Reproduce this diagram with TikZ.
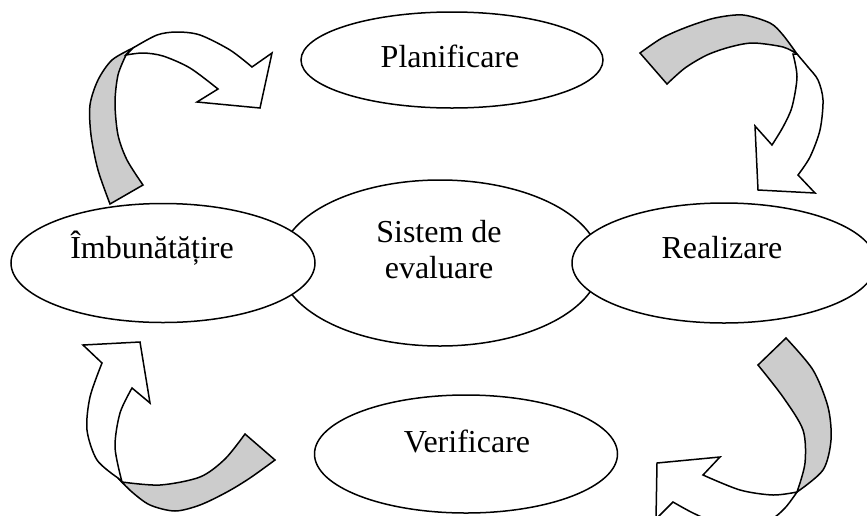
\documentclass[tikz,border=0pt]{standalone}
\usepackage{fontspec}
\setmainfont{Liberation Serif}
\usetikzlibrary{shapes.geometric}
\definecolor{bandgray}{HTML}{CCCCCC}
\tikzset{
  ell/.style={ellipse, draw=black, fill=white, line width=1.5pt, inner sep=0pt},
  lbl/.style={anchor=base, inner sep=0pt, font=\fontsize{32}{37}\selectfont},
  band/.style={draw=black, fill=bandgray, line width=1.5pt, line join=miter},
  shaft/.style={draw=black, fill=white, line width=1.5pt, line join=miter}
}
\begin{document}
\begin{tikzpicture}[x=1pt,y=-1pt]
\useasboundingbox (0,0) rectangle (867,515);
\clip (0,0) rectangle (867,515);
\fill[white] (0,0) rectangle (867,515);
% centre ellipse and side ellipses
\node[ell, minimum width=320pt, minimum height=166pt] (sis) at (440,263) {};
\node[ell, minimum width=304pt, minimum height=119pt] (imb) at (163,263) {};
\node[ell, minimum width=304pt, minimum height=120pt] (rea) at (724,263) {};
\node[ell, minimum width=302pt, minimum height=96pt] (pla) at (452,60) {};
\node[ell, minimum width=303pt, minimum height=118pt] (ver) at (466,454) {};
% labels
\node[lbl] (plaT) at (450,67) {Planificare};
\node[lbl] (sisT1) at (439,242) {Sistem de};
\node[lbl] (sisT2) at (439,278) {evaluare};
\node[lbl] (imbT) at (152,258) {Îmbunătățire};
\node[lbl] (reaT) at (722,258) {Realizare};
\node[lbl] (verT) at (467,452) {Verificare};
% arrow 1 (top-left)
\path[band] (110,204) -- plot[smooth] coordinates {(110,204) (98,170) (91,135) (90,105) (98,80) (112,60) (133,48)}
  -- (126,55) -- plot[smooth] coordinates {(126,55) (118,75) (115,103) (118,135) (127,160) (143,185)} -- cycle;
\path[shaft] (133,48) -- plot[smooth] coordinates {(133,48) (157,35) (177,32) (200,35) (230,50) (252,67)}
  -- (272,53) -- (260,108) -- (197,102) -- (218,89)
  -- plot[smooth] coordinates {(218,89) (190,68) (163,56) (143,53) (126,55)} -- cycle;
% arrow 2 (top-right)
\path[band] (640,53) -- plot[smooth] coordinates {(640,53) (662,38) (687,27) (715,18) (743,15) (770,23) (783,35) (797,54)}
  -- plot[smooth] coordinates {(797,54) (783,47) (753,43) (730,47) (707,55) (685,68) (667,84)} -- cycle;
\path[shaft] (797,54) -- plot[smooth] coordinates {(797,54) (808,67) (818,80) (823,100) (820,130) (810,157) (798,175)}
  -- (815,193) -- (758,190) -- (755,126) -- (772,145)
  -- plot[smooth] coordinates {(772,145) (783,127) (792,107) (797,77) (793,54)} -- cycle;
% arrow 3 (bottom-right)
\path[band] (758,365) -- (786,338) -- plot[smooth] coordinates {(786,338) (813,370) (828,407) (831,440) (823,470) (797,492)}
  -- plot[smooth] coordinates {(797,492) (805,463) (803,430) (783,397) (758,365)} -- cycle;
\path[shaft] (797,492) -- plot[smooth] coordinates {(797,492) (773,495) (740,490) (703,475)}
  -- (720,457) -- (657,463) -- (656,519) -- (673,502)
  -- plot[smooth] coordinates {(673,502) (693,513) (715,522) (745,526) (770,520) (785,508) (797,492)} -- cycle;
% arrow 4 (bottom-left)
\path[band] (122,482) -- plot[smooth] coordinates {(122,482) (160,485) (200,477) (225,459) (245,434)}
  -- (275,460) -- plot[smooth] coordinates {(275,460) (250,478) (227,492) (200,505) (175,511) (150,505) (132,492) (118,478)} -- cycle;
\path[shaft] (118,478) -- plot[smooth] coordinates {(118,478) (97,460) (87,430) (90,397) (102,363)}
  -- (83,345) -- (140,342) -- (150,403) -- (132,388)
  -- plot[smooth] coordinates {(132,388) (120,413) (115,447) (122,482)} -- cycle;
\end{tikzpicture}
\end{document}
